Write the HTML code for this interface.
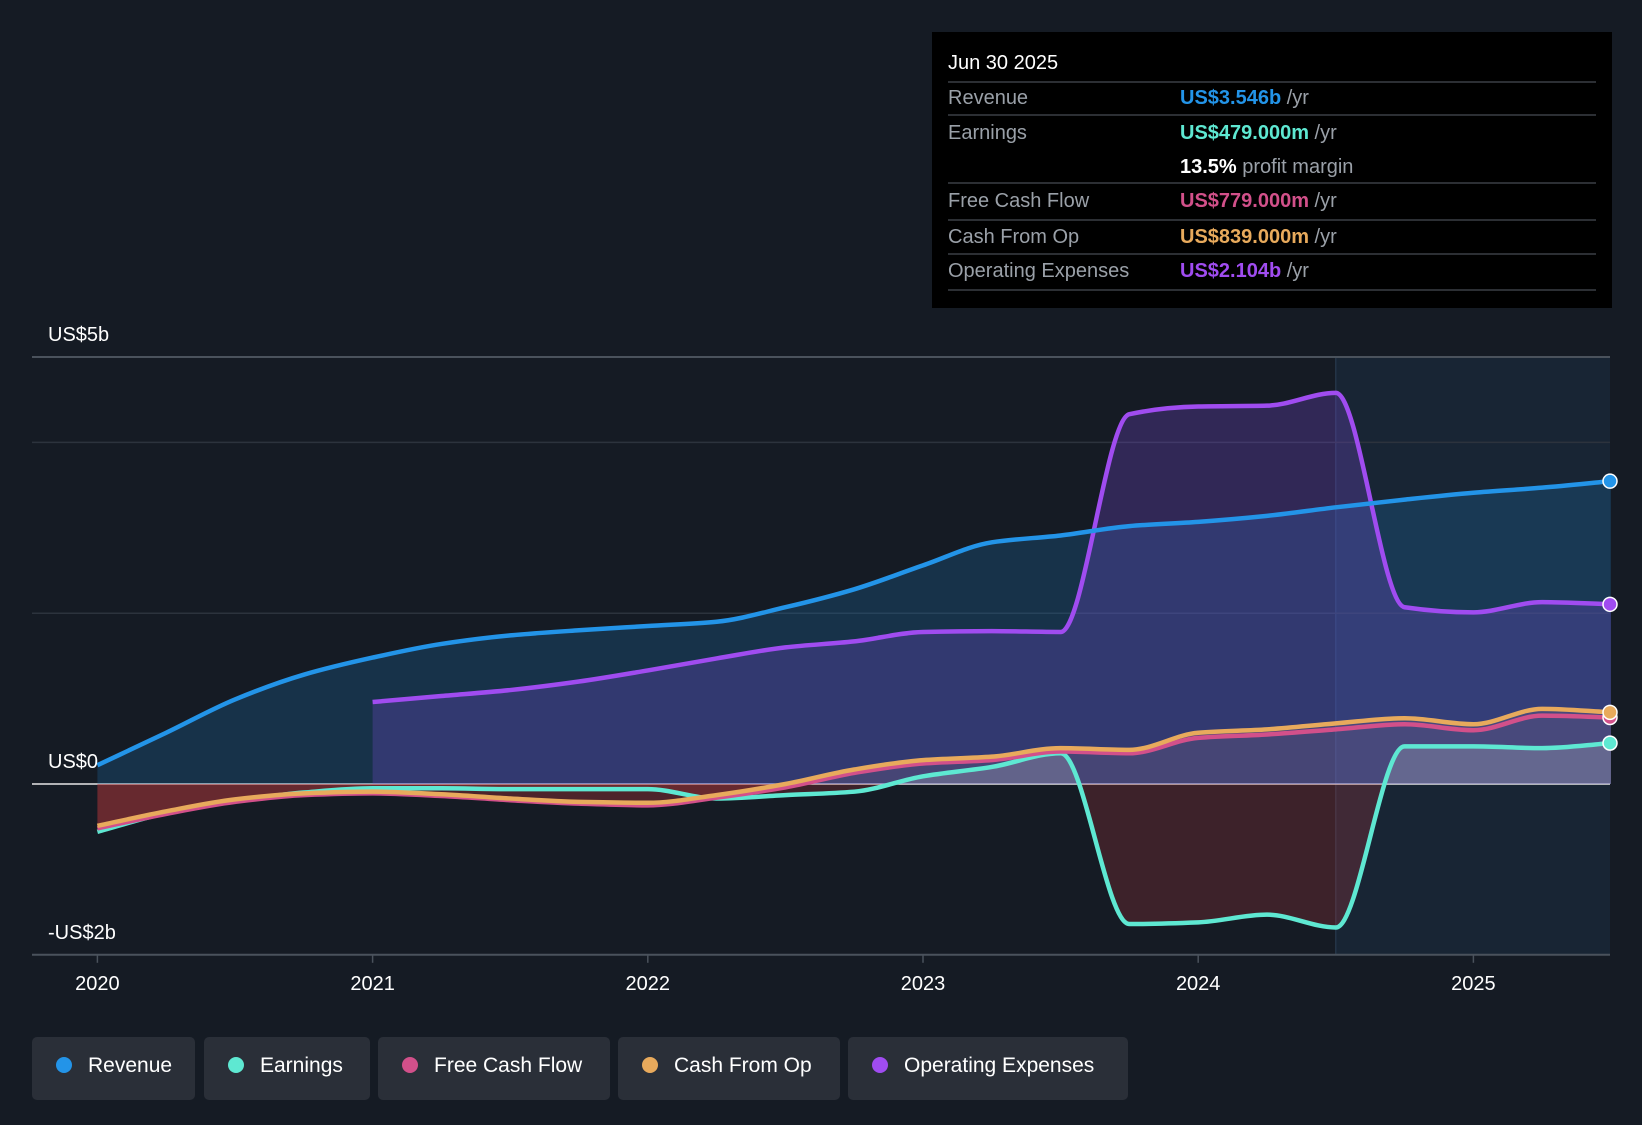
<!DOCTYPE html>
<html><head><meta charset="utf-8">
<style>
html,body{margin:0;padding:0;background:#151b24;}
body{width:1642px;height:1120px;overflow:hidden;font-family:"Liberation Sans",sans-serif;}
svg text{font-family:"Liberation Sans",sans-serif;}
</style></head>
<body>
<svg id="chart" width="1642" height="1120" viewBox="0 0 1642 1120" xmlns="http://www.w3.org/2000/svg">
<defs>
<clipPath id="above"><rect x="0" y="0" width="1642" height="784"/></clipPath>
<clipPath id="below"><rect x="0" y="784" width="1642" height="400"/></clipPath>
</defs>
<rect x="0" y="0" width="1642" height="1120" fill="#151b24"/>
<g id="grid"></g>
<g id="fills"></g>
<g id="lines"></g>
<g id="axes"></g>
<g id="tooltip"></g>
<g id="legend"></g>
</svg>
<script>
const years = [2020,2020.25,2020.5,2020.75,2021,2021.25,2021.5,2021.75,2022,2022.25,2022.5,2022.75,2023,2023.25,2023.5,2023.75,2024,2024.25,2024.5,2024.75,2025,2025.25,2025.5];
const revenue = [0.22,0.6,0.99,1.28,1.48,1.64,1.74,1.80,1.85,1.90,2.07,2.28,2.56,2.83,2.91,3.02,3.07,3.14,3.24,3.33,3.41,3.47,3.546];
const opex = [null,null,null,null,0.96,1.03,1.10,1.20,1.33,1.47,1.60,1.67,1.78,1.79,1.78,4.33,4.42,4.43,4.58,2.07,2.01,2.13,2.104];
const earnings = [-0.56,-0.34,-0.2,-0.1,-0.05,-0.05,-0.06,-0.06,-0.06,-0.17,-0.13,-0.09,0.09,0.2,0.36,-1.64,-1.62,-1.53,-1.68,0.44,0.44,0.42,0.479];
const cfo = [-0.49,-0.32,-0.18,-0.11,-0.09,-0.12,-0.17,-0.21,-0.22,-0.13,0,0.17,0.28,0.32,0.42,0.40,0.60,0.64,0.71,0.77,0.70,0.88,0.839];
const fcf = [-0.52,-0.35,-0.21,-0.13,-0.11,-0.14,-0.19,-0.23,-0.25,-0.16,-0.04,0.13,0.24,0.28,0.38,0.36,0.54,0.58,0.64,0.70,0.63,0.80,0.779];
const yTicks = [5,4,2,0,-2];
const yLabels = ["US$5b","US$0","-US$2b"];
const yLabelVals = [5,0,-2];
const xTicks = [2020,2021,2022,2023,2024,2025];

const NS="http://www.w3.org/2000/svg";
const X0=32,X1=1610;
function xS(t){return 97.4+(t-2020)*275.2;}
function yS(v){return 784-v*85.4;}
function mk(tag,attrs,parent){const e=document.createElementNS(NS,tag);for(const k in attrs)e.setAttribute(k,attrs[k]);parent.appendChild(e);return e;}
function pts(arr){const p=[];arr.forEach((v,i)=>{if(v!==null)p.push([xS(years[i]),yS(v)]);});return p;}
function smooth(p){const n=p.length;const d=[],m=[];
for(let i=0;i<n-1;i++)d.push((p[i+1][1]-p[i][1])/(p[i+1][0]-p[i][0]));
for(let i=0;i<n;i++){if(i===0)m.push(d[0]);else if(i===n-1)m.push(d[n-2]);else if(d[i-1]*d[i]<=0)m.push(0);else m.push(2/(1/d[i-1]+1/d[i]));}
let s="M"+p[0][0]+","+p[0][1];
for(let i=0;i<n-1;i++){const h=(p[i+1][0]-p[i][0])/3;
s+=" C"+(p[i][0]+h)+","+(p[i][1]+m[i]*h)+" "+(p[i+1][0]-h)+","+(p[i+1][1]-m[i+1]*h)+" "+p[i+1][0]+","+p[i+1][1];}
return s;}
function area(p){return smooth(p)+" L"+p[p.length-1][0]+","+yS(0)+" L"+p[0][0]+","+yS(0)+" Z";}

const grid=document.getElementById('grid');
const fr=mk('rect',{x:xS(2024.5),y:yS(5),width:X1-xS(2024.5),height:yS(-2)-yS(5),fill:'#1a2d40',opacity:0.6},grid);


mk('line',{x1:xS(2024.5),x2:xS(2024.5),y1:yS(5),y2:yS(-2),stroke:'#2a3e55','stroke-width':1},grid);
yTicks.forEach(v=>{const l=mk('line',{x1:X0,x2:X1,y1:yS(v),y2:yS(v),stroke:v===0?'#e6e6e6':(v===5||v===-2?'#4a525c':'#2c333d'),'stroke-width':v===0?1.5:(v===5||v===-2?2:1.5)},grid);

});

const fills=document.getElementById('fills');
function addFill(arr,color,op,name,clip){const e=mk('path',{d:area(pts(arr)),fill:color,opacity:op},fills);if(clip)e.setAttribute('clip-path','url(#'+clip+')');

}
addFill(revenue,'#1e6fa8',0.28,'revenue-area');
addFill(opex,'#7a4ad8',0.28,'opex-area');
addFill(cfo,'#e0a0a0',0.12,'cfo-area','above');
addFill(earnings,'#c8d0d8',0.22,'earnings-area','above');
addFill(earnings,'#b8363a',0.25,'earnings-negative-area','below');
addFill(fcf,'#b8363a',0.35,'fcf-negative-area','below');

const lines=document.getElementById('lines');
const series=[['earnings-line',earnings,'#5ee8d2'],['fcf-line',fcf,'#d2508a'],['cfo-line',cfo,'#e8aa5c'],['opex-line',opex,'#a04cf0'],['revenue-line',revenue,'#2394e8']];
series.forEach(s=>{const p=pts(s[1]);const e=mk('path',{d:smooth(p),fill:'none',stroke:s[2],'stroke-width':4.5,'stroke-linejoin':'round'},lines);


const last=p[p.length-1];const c=mk('circle',{cx:X1,cy:last[1],r:7,fill:s[2],stroke:'#fff','stroke-width':1.5},lines);

});

const axes=document.getElementById('axes');
yLabels.forEach((t,i)=>{const tx=mk('text',{x:48,y:yS(yLabelVals[i])-16,fill:'#fff','font-size':20},axes);tx.textContent=t;

});
xTicks.forEach(t=>{mk('line',{x1:xS(t),x2:xS(t),y1:yS(-2),y2:yS(-2)+8,stroke:'#4a525c','stroke-width':1.5},axes);
const tx=mk('text',{x:xS(t),y:990,fill:'#fff','font-size':20,'text-anchor':'middle'},axes);tx.textContent=t;

});

const tt=document.getElementById('tooltip');
const tb=mk('rect',{x:932,y:32,width:680,height:276,fill:'#000'},tt);


const th=mk('text',{x:948,y:69,fill:'#fff','font-size':20},tt);th.textContent='Jun 30 2025';


[82,115,183,220,254,290].forEach(y=>mk('line',{x1:948,x2:1596,y1:y,y2:y,stroke:'#3a3f46','stroke-width':1.5},tt));
const rows=[['Revenue','US$3.546b','#2394e8',' /yr',104],['Earnings','US$479.000m','#5ee8d2',' /yr',139],['','13.5%','#fff',' profit margin',173],['Free Cash Flow','US$779.000m','#d2508a',' /yr',207],['Cash From Op','US$839.000m','#e8aa5c',' /yr',243],['Operating Expenses','US$2.104b','#a04cf0',' /yr',277]];
rows.forEach(r=>{const l=mk('text',{x:948,y:r[4],fill:'#9aa0a8','font-size':20},tt);l.textContent=r[0];


const v=mk('text',{x:1180,y:r[4],'font-size':20},tt);


const a=mk('tspan',{fill:r[2],'font-weight':'bold'},v);a.textContent=r[1];
const b=mk('tspan',{fill:'#9aa0a8'},v);b.textContent=r[3];});

const lg=document.getElementById('legend');
const items=[['Revenue','#2394e8',32,163],['Earnings','#5ee8d2',204,166],['Free Cash Flow','#d2508a',378,232],['Cash From Op','#e8aa5c',618,222],['Operating Expenses','#a04cf0',848,280]];
items.forEach(it=>{const g=mk('g',{},lg);


mk('rect',{x:it[2],y:1037,width:it[3],height:63,rx:5,fill:'#2a2f38'},g);
mk('circle',{cx:it[2]+32,cy:1065,r:8,fill:it[1]},g);
const t=mk('text',{x:it[2]+56,y:1072,fill:'#fff','font-size':21},g);t.textContent=it[0];});
</script>
</body></html>
